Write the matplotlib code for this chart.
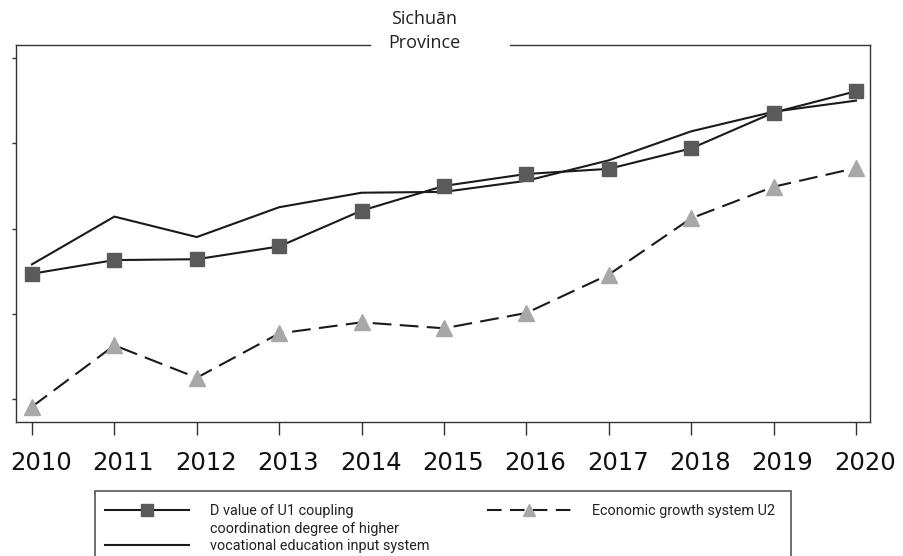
import matplotlib
matplotlib.use('Agg')
import matplotlib.pyplot as plt
from matplotlib.lines import Line2D
from matplotlib.patches import Rectangle
from matplotlib.transforms import ScaledTranslation

plt.rcParams['font.family'] = ['Open Sans', 'DejaVu Sans']

# Data
years = [2010, 2011, 2012, 2013, 2014, 2015, 2016, 2017, 2018, 2019, 2020]
d_value = [0.247, 0.263, 0.264, 0.279, 0.321, 0.350, 0.364, 0.370, 0.394, 0.436, 0.461]
u1_input = [0.258, 0.314, 0.290, 0.325, 0.342, 0.343, 0.356, 0.380, 0.414, 0.437, 0.450]
u2_econ = [0.091, 0.163, 0.125, 0.177, 0.190, 0.183, 0.201, 0.246, 0.312, 0.349, 0.371]
y_ticks = [0.1, 0.2, 0.3, 0.4, 0.5]

fig = plt.figure(figsize=(9.04, 5.56), dpi=100)
ax = fig.add_axes([0.0177, 0.241, 0.9447, 0.678])

ax.plot(years, u1_input, color='#1a1a1a', lw=1.5)
ax.plot(years, d_value, color='#1a1a1a', lw=1.5, marker='s', markersize=10,
        markerfacecolor='#5a5a5a', markeredgecolor='#5a5a5a')
ax.plot(years, u2_econ, color='#1a1a1a', lw=1.5, dashes=(9, 4), marker='^', markersize=11,
        markerfacecolor='#a8a8a8', markeredgecolor='#a8a8a8')

ax.set_xlim(2009.806, 2020.17)
ax.set_ylim(0.0731, 0.5152)
ax.set_xticks(years)
ax.set_xticklabels([str(y) for y in years], fontsize=17.5, family='DejaVu Sans')
ax.set_yticks(y_ticks)
ax.set_yticklabels([])
ax.tick_params(axis='x', direction='out', length=9, width=1, pad=12, colors='#333333',
               labelcolor='#111111')
ax.tick_params(axis='y', direction='out', length=3, width=1, colors='#333333')
# year labels sit a little to the right of their ticks in the original
shift = ScaledTranslation(9 / 100, 0, fig.dpi_scale_trans)
for lab in ax.get_xticklabels():
    lab.set_transform(lab.get_transform() + shift)

for side in ['left', 'right', 'bottom']:
    ax.spines[side].set_color('#333333')
    ax.spines[side].set_linewidth(1)
ax.spines['top'].set_visible(False)
# top border with a gap for the title
ax.plot([0, 0.414], [1, 1], transform=ax.transAxes, color='#333333', lw=1, clip_on=False)
ax.plot([0.579, 1], [1, 1], transform=ax.transAxes, color='#333333', lw=1, clip_on=False)
ax.text(0.478, 1.038, 'Sichuān\nProvince', transform=ax.transAxes, ha='center', va='center',
        fontsize=13, linespacing=1.45, color='#222222')

blank = Line2D([], [], color='none')
handles = [
    Line2D([], [], color='#1a1a1a', lw=1.5, marker='s', markersize=8,
           markerfacecolor='#5a5a5a', markeredgecolor='#5a5a5a'),
    blank,
    Line2D([], [], color='#1a1a1a', lw=1.5),
    Line2D([], [], color='#1a1a1a', lw=1.5, dashes=(7, 4), marker='^', markersize=8,
           markerfacecolor='#a8a8a8', markeredgecolor='#a8a8a8'),
    blank,
    blank,
]
labels = [
    'D value of U1 coupling',
    'coordination degree of higher',
    'vocational education input system',
    'Economic growth system U2',
    ' ',
    ' ',
]
leg = fig.legend(handles, labels, ncol=2, loc='upper left', bbox_to_anchor=(0.1162, 0.0935),
                 prop={'family': 'Roboto', 'size': 10.4}, frameon=False,
                 handlelength=5.8, handletextpad=1.45, columnspacing=4.0,
                 borderpad=0, labelspacing=0.25, borderaxespad=0)
for t in leg.get_texts():
    t.set_color('#222222')

# legend box, cut by the lower edge of the picture
fig.patches.append(Rectangle((0.1051, -0.05), 0.770, 0.1669, transform=fig.transFigure,
                             fill=False, edgecolor='#555555', lw=1.2))

fig.savefig('out.png', dpi=100)
